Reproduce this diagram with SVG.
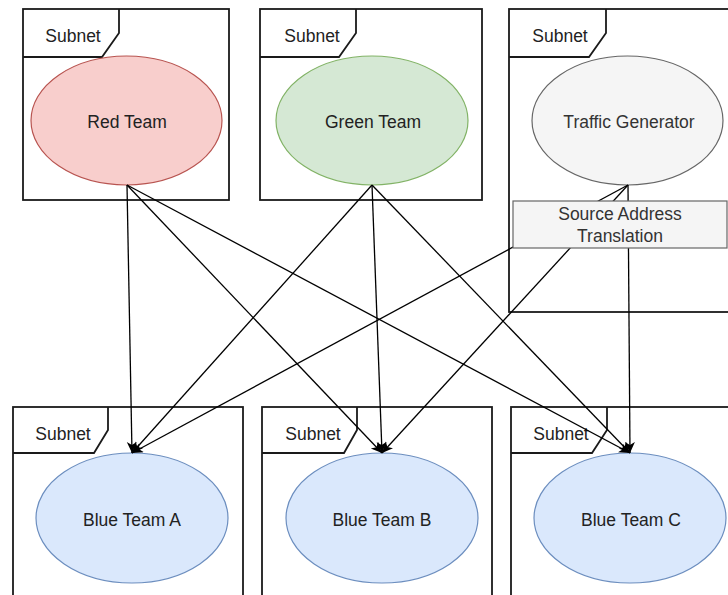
<svg xmlns="http://www.w3.org/2000/svg" width="728" height="595" viewBox="0 0 728 595">
<style>
.frame{fill:#fff;stroke:#1a1a1a;stroke-width:1.8}
.tab{fill:none;stroke:#1a1a1a;stroke-width:1.8}
.t{font-family:"Liberation Sans",Arial,sans-serif;font-size:17.5px;fill:#222;text-anchor:middle}
.tg{fill:#333}
.edge{fill:none;stroke:#000;stroke-width:1.3}
</style>
<defs>
<marker id="arr" markerUnits="userSpaceOnUse" markerWidth="13" markerHeight="11" refX="11" refY="5" orient="auto">
<path d="M0,0 L11,5 L0,10 L3,5 z" fill="#000"/>
</marker>
</defs>
<rect width="728" height="595" fill="#fff"/>

<g id="subnet-red">
<rect class="frame" x="23" y="9" width="206" height="191"/>
<path class="tab" d="M119,9 V33 L102,57 H23"/>
<text class="t" x="73" y="42">Subnet</text>
</g>
<g id="subnet-green">
<rect class="frame" x="260" y="9" width="222" height="191"/>
<path class="tab" d="M356,9 V33 L339,57 H260"/>
<text class="t" x="312" y="42">Subnet</text>
</g>
<g id="subnet-traffic">
<rect class="frame" x="509" y="9" width="230" height="303"/>
<path class="tab" d="M606,9 V33 L589,57 H509"/>
<text class="t" x="560" y="42">Subnet</text>
</g>
<g id="subnet-blue-a">
<rect class="frame" x="13" y="407" width="230" height="200"/>
<path class="tab" d="M108,407 V430 L94,453 H13"/>
<text class="t" x="63" y="440">Subnet</text>
</g>
<g id="subnet-blue-b">
<rect class="frame" x="262" y="407" width="230" height="200"/>
<path class="tab" d="M357,407 V430 L344,453 H262"/>
<text class="t" x="313" y="440">Subnet</text>
</g>
<g id="subnet-blue-c">
<rect class="frame" x="511" y="407" width="230" height="200"/>
<path class="tab" d="M607,407 V430 L592,453 H511"/>
<text class="t" x="561" y="440">Subnet</text>
</g>

<g id="red-team">
<ellipse cx="126.5" cy="120.5" rx="95.5" ry="64.5" fill="#f8cecc" stroke="#b85450" stroke-width="1.2"/>
<text class="t" x="127" y="127.5">Red Team</text>
</g>
<g id="green-team">
<ellipse cx="372" cy="120.5" rx="96" ry="64.5" fill="#d5e8d4" stroke="#82b366" stroke-width="1.2"/>
<text class="t" x="373" y="127.5">Green Team</text>
</g>
<g id="traffic-generator">
<ellipse cx="627.5" cy="120.5" rx="95.5" ry="64.5" fill="#f5f5f5" stroke="#666" stroke-width="1.2"/>
<text class="t tg" x="629" y="127.5">Traffic Generator</text>
</g>
<g id="blue-team-a">
<ellipse cx="132" cy="518" rx="96" ry="65" fill="#dae8fc" stroke="#6c8ebf" stroke-width="1.2"/>
<text class="t" x="132" y="525.5">Blue Team A</text>
</g>
<g id="blue-team-b">
<ellipse cx="382" cy="518" rx="96" ry="65" fill="#dae8fc" stroke="#6c8ebf" stroke-width="1.2"/>
<text class="t" x="382" y="525.5">Blue Team B</text>
</g>
<g id="blue-team-c">
<ellipse cx="630" cy="518" rx="96" ry="65" fill="#dae8fc" stroke="#6c8ebf" stroke-width="1.2"/>
<text class="t" x="631" y="525.5">Blue Team C</text>
</g>

<g id="connectors">
<line class="edge" x1="127" y1="185" x2="132" y2="453" marker-end="url(#arr)"/>
<line class="edge" x1="127" y1="185" x2="382" y2="453" marker-end="url(#arr)"/>
<line class="edge" x1="127" y1="185" x2="630" y2="453" marker-end="url(#arr)"/>
<line class="edge" x1="372" y1="185" x2="132" y2="453" marker-end="url(#arr)"/>
<line class="edge" x1="372" y1="185" x2="382" y2="453" marker-end="url(#arr)"/>
<line class="edge" x1="372" y1="185" x2="630" y2="453" marker-end="url(#arr)"/>
<line class="edge" x1="628" y1="185" x2="132" y2="453" marker-end="url(#arr)"/>
<line class="edge" x1="628" y1="185" x2="382" y2="453" marker-end="url(#arr)"/>
<line class="edge" x1="628" y1="185" x2="630" y2="453" marker-end="url(#arr)"/>
</g>

<g id="source-address-translation">
<rect x="513" y="201" width="214" height="47" fill="#f5f5f5" stroke="#666" stroke-width="1.2"/>
<text class="t tg" x="620" y="219.5">Source Address</text>
<text class="t tg" x="620" y="242">Translation</text>
</g>
</svg>
